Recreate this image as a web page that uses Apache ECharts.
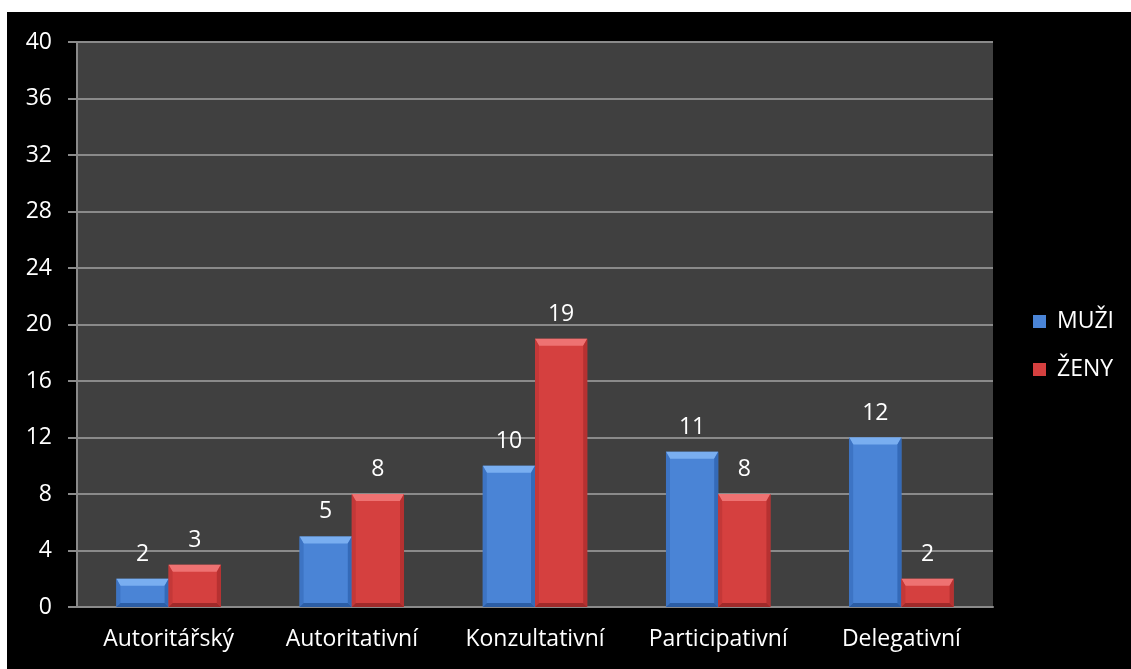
<!DOCTYPE html>
<html>
<head>
<meta charset="utf-8">
<script src="https://cdn.jsdelivr.net/npm/echarts@6/dist/echarts.min.js"></script>
<style>
  html, body { margin: 0; padding: 0; background: #ffffff; width: 1131px; height: 669px; overflow: hidden; }
  #chart { position: absolute; left: 7px; top: 12px; width: 1124px; height: 657px; background: #000000; }
</style>
</head>
<body>
<div id="chart"></div>
<script>
// Leadership styles and number of respondents per style
const categories = ['Autoritářský', 'Autoritativní', 'Konzultativní', 'Participativní', 'Delegativní'];
const seriesNames = ['MUŽI', 'ŽENY'];
const muzi = [2, 5, 10, 11, 12];
const zeny = [3, 8, 19, 8, 2];
const yTicks = [0, 4, 8, 12, 16, 20, 24, 28, 32, 36, 40];

const FONT = '"Open Sans", "Noto Sans", sans-serif';

// Bevel shades: face, top, left, right, bottom
const palettes = [
  { face: '#4a84d6', top: '#79aef0', left: '#3d74c4', right: '#346ab8', bottom: '#2c5ea6' },
  { face: '#d5403f', top: '#ee7272', left: '#c43838', right: '#b63131', bottom: '#a02a2a' }
];

function bevelRenderer(seriesIdx) {
  const pal = palettes[seriesIdx];
  return function (params, api) {
    const cat = api.value(0);
    const val = api.value(1);
    const base = api.coord([cat, 0]);
    const topPt = api.coord([cat, val]);
    const band = api.size([1, 0])[0];
    const bw = band * 0.285;
    const x0 = seriesIdx === 0 ? base[0] - bw : base[0];
    const x1 = x0 + bw;
    const y0 = topPt[1];
    const y1 = base[1];
    const h = y1 - y0;
    const bt = Math.min(7, h / 2);   // top bevel
    const bs = Math.min(4, h / 2);   // side / bottom bevel
    const children = [
      { type: 'rect', shape: { x: x0, y: y0, width: x1 - x0, height: h }, style: { fill: pal.face } },
      { type: 'polygon', shape: { points: [[x0, y0], [x1, y0], [x1 - bs, y0 + bt], [x0 + bs, y0 + bt]] }, style: { fill: pal.top } },
      { type: 'polygon', shape: { points: [[x0, y0], [x0 + bs, y0 + bt], [x0 + bs, y1 - bs], [x0, y1]] }, style: { fill: pal.left } },
      { type: 'polygon', shape: { points: [[x1, y0], [x1, y1], [x1 - bs, y1 - bs], [x1 - bs, y0 + bt]] }, style: { fill: pal.right } },
      { type: 'polygon', shape: { points: [[x0, y1], [x0 + bs, y1 - bs], [x1 - bs, y1 - bs], [x1, y1]] }, style: { fill: pal.bottom } },
      {
        type: 'text',
        style: {
          text: String(val),
          x: (x0 + x1) / 2,
          y: y0 - 13,
          align: 'center',
          verticalAlign: 'bottom',
          fill: '#ffffff',
          font: '23px ' + FONT
        }
      }
    ];
    return { type: 'group', children: children };
  };
}

const chart = echarts.init(document.getElementById('chart'), null, { renderer: 'canvas' });

const option = {
  backgroundColor: '#000000',
  animation: false,
  grid: {
    left: 70, top: 30, width: 916, height: 565,
    show: true, backgroundColor: '#404040', borderWidth: 0,
    containLabel: false
  },
  legend: {
    orient: 'vertical',
    left: 1021, top: 293,
    itemWidth: 13, itemHeight: 13, itemGap: 25,
    icon: 'rect',
    textStyle: { color: '#ffffff', fontSize: 23, fontFamily: FONT, padding: [0, 0, 0, 6] },
    data: [
      { name: seriesNames[0], itemStyle: { color: palettes[0].face } },
      { name: seriesNames[1], itemStyle: { color: palettes[1].face } }
    ]
  },
  xAxis: {
    type: 'category',
    data: categories,
    axisLine: { show: true, lineStyle: { color: '#8a8a8a', width: 2 } },
    axisTick: { show: false },
    axisLabel: { color: '#ffffff', fontSize: 23, fontFamily: FONT, margin: 21, interval: 0 },
    splitLine: { show: false }
  },
  yAxis: {
    type: 'value',
    min: yTicks[0], max: yTicks[yTicks.length - 1], interval: 4,
    axisLine: { show: true, lineStyle: { color: '#8a8a8a', width: 2 } },
    axisTick: { show: true, length: 9, lineStyle: { color: '#8a8a8a', width: 2 } },
    axisLabel: { color: '#ffffff', fontSize: 23, fontFamily: FONT, margin: 25 },
    splitLine: { show: true, lineStyle: { color: '#8a8a8a', width: 2 } }
  },
  series: [
    {
      name: seriesNames[0],
      type: 'custom',
      renderItem: bevelRenderer(0),
      itemStyle: { color: palettes[0].face },
      encode: { x: 0, y: 1 },
      data: muzi.map((v, i) => [i, v]),
      z: 3
    },
    {
      name: seriesNames[1],
      type: 'custom',
      renderItem: bevelRenderer(1),
      itemStyle: { color: palettes[1].face },
      encode: { x: 0, y: 1 },
      data: zeny.map((v, i) => [i, v]),
      z: 3
    }
  ]
};

chart.setOption(option);
</script>
</body>
</html>
